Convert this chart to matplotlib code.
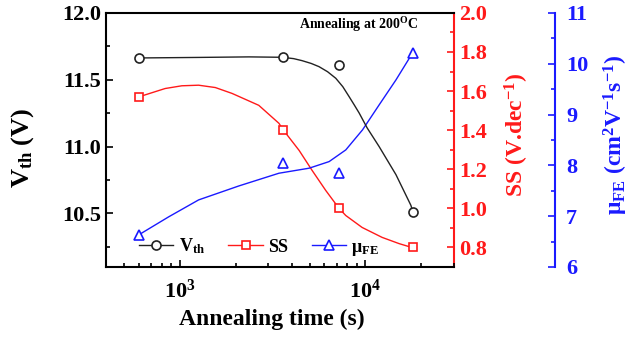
import numpy as np
import matplotlib
matplotlib.use("Agg")
import matplotlib.pyplot as plt
from matplotlib.ticker import MultipleLocator, LogLocator, FuncFormatter, NullFormatter

plt.rcParams['font.family'] = ['Liberation Serif', 'DejaVu Serif']
plt.rcParams['font.weight'] = 'bold'
plt.rcParams['mathtext.fontset'] = 'custom'
plt.rcParams['mathtext.rm'] = 'Liberation Serif:bold'
plt.rcParams['mathtext.bf'] = 'Liberation Serif:bold'
plt.rcParams['mathtext.it'] = 'Liberation Serif:bold'
plt.rcParams['mathtext.default'] = 'rm'

# measured points
time_s = [600, 3600, 7200, 18000]
vth = [11.663, 11.67, 11.61, 10.51]
ss = [1.57, 1.402, 1.0, 0.80]
mu_fe = [6.63, 8.05, 7.85, 10.22]

# fitted curves
vth_fit_x = [600, 1262, 2355, 3570, 4100, 4550, 5100, 5620, 6250, 6920, 7550, 8170, 8700, 9250,
             10210, 11850, 14600, 17580, 18000]
vth_fit_y = [11.663, 11.667, 11.671, 11.668, 11.658, 11.643, 11.622, 11.598, 11.560, 11.511, 11.448,
             11.373, 11.312, 11.251, 11.140, 11.000, 10.790, 10.560, 10.51]
ss_fit_x = [600, 833, 1025, 1262, 1553, 1910, 2662, 3418, 3600, 4393, 5158, 6113, 7200, 7834, 9592,
            12300, 15200, 18000]
ss_fit_y = [1.570, 1.613, 1.627, 1.630, 1.618, 1.588, 1.527, 1.435, 1.402, 1.296, 1.194, 1.091, 1.0,
            0.963, 0.902, 0.851, 0.819, 0.798]
mu_fit_x = [600, 869, 1262, 2080, 3418, 4970, 6370, 7834, 9640, 11850, 14600, 18000]
mu_fit_y = [6.63, 6.984, 7.319, 7.594, 7.844, 7.943, 8.073, 8.303, 8.697, 9.189, 9.681, 10.22]

red = '#ff1a1a'
blue = '#1a1aff'
lw = 1.5

fig = plt.figure(figsize=(6.31, 3.37), dpi=100)
ax = fig.add_axes([0.168, 0.208, 0.5515, 0.7537])
ax2 = ax.twinx()
ax3 = ax.twinx()
ax3.spines['right'].set_position(('axes', 1.29))

# curves
ax.plot(vth_fit_x, vth_fit_y, color='#222222', lw=1.0, zorder=2)
ax2.plot(ss_fit_x, ss_fit_y, color=red, lw=1.0, zorder=2)
ax3.plot(mu_fit_x, mu_fit_y, color=blue, lw=1.0, zorder=2)

# markers
ax.plot(time_s, vth, 'o', ms=6.5, mfc='white', mec='#222222', mew=1.2, zorder=3)
ax2.plot(time_s, ss, 's', ms=6, mfc='white', mec=red, mew=1.2, zorder=3)
ax3.plot(time_s, mu_fe, '^', ms=7, mfc='white', mec=blue, mew=1.2, zorder=3)

ax.set_xscale('log')
ax.set_xlim(400, 30000)
ax.set_ylim(10.1, 12.0)
ax2.set_ylim(0.7, 2.0)
ax3.set_ylim(6, 11)

ax.xaxis.set_major_locator(LogLocator(base=10, numticks=10))
ax.xaxis.set_minor_locator(LogLocator(base=10, subs=np.arange(2, 10), numticks=10))
ax.xaxis.set_major_formatter(FuncFormatter(lambda v, p: r'$\mathrm{10^{%d}}$' % round(np.log10(v))))
ax.xaxis.set_minor_formatter(NullFormatter())

ax.yaxis.set_major_locator(MultipleLocator(0.5))
ax.yaxis.set_minor_locator(MultipleLocator(0.25))
ax.yaxis.set_major_formatter(FuncFormatter(lambda v, p: '%.1f' % v))
ax2.yaxis.set_major_locator(MultipleLocator(0.2))
ax2.yaxis.set_minor_locator(MultipleLocator(0.1))
ax2.yaxis.set_major_formatter(FuncFormatter(lambda v, p: '%.1f' % v))
ax3.yaxis.set_major_locator(MultipleLocator(1))
ax3.yaxis.set_minor_locator(MultipleLocator(0.5))

for s in ['top', 'bottom', 'left']:
    ax.spines[s].set_linewidth(lw)
ax.spines['right'].set_visible(False)
for s in ['top', 'bottom', 'left']:
    ax2.spines[s].set_visible(False)
    ax3.spines[s].set_visible(False)
ax2.spines['right'].set_color(red)
ax2.spines['right'].set_linewidth(lw)
ax3.spines['right'].set_color(blue)
ax3.spines['right'].set_linewidth(lw)

ax.tick_params(axis='both', which='both', direction='in', width=1.2, labelsize=16)
ax.tick_params(which='major', length=5)
ax.tick_params(which='minor', length=3)
ax.tick_params(axis='x', pad=9)
ax2.tick_params(axis='y', which='both', direction='in', colors=red, width=1.2, labelsize=16)
ax2.tick_params(which='major', length=5)
ax2.tick_params(which='minor', length=3)
ax3.tick_params(axis='y', which='both', direction='in', colors=blue, width=1.2, labelsize=16, pad=8)
ax3.tick_params(which='major', length=5)
ax3.tick_params(which='minor', length=3)

ax.set_xlabel('Annealing time (s)', fontsize=17, fontweight='bold')
ax.xaxis.set_label_coords(0.477, -0.165)
ax.set_ylabel(r'V$_{\mathrm{th}}$ (V)', fontsize=19, fontweight='bold')
ax.yaxis.set_label_coords(-0.2, 0.47)
ax2.set_ylabel(r'SS (V.dec$^{\mathrm{-1}}$)', fontsize=17, fontweight='bold', color=red)
ax2.yaxis.set_label_coords(1.14, 0.52)
ax3.set_ylabel(r'μ$_{\mathrm{FE}}$ (cm$^{\mathrm{2}}$V$^{\mathrm{-1}}$s$^{\mathrm{-1}}$)', fontsize=17,
               fontweight='bold', color=blue)
ax3.yaxis.set_label_coords(1.425, 0.52)

ax.text(0.897, 0.953, r'Annealing at 200$^{\mathrm{O}}$C', transform=ax.transAxes,
        ha='right', va='center', fontsize=10, fontweight='bold')

# legend
h1, = ax.plot([], [], '-o', color='#222222', ms=6.5, mfc='white', mew=1.2, lw=1.0)
h2, = ax.plot([], [], '-s', color=red, ms=6, mfc='white', mew=1.2, lw=1.0)
h3, = ax.plot([], [], '-^', color=blue, ms=7, mfc='white', mew=1.2, lw=1.0)
leg = ax.legend([h1, h2, h3], [r'V$_{\mathrm{th}}$', 'SS', r'μ$_{\mathrm{FE}}$'],
                loc='center left', bbox_to_anchor=(0.074, 0.078), ncol=3, frameon=False,
                fontsize=13, handlelength=1.9, handletextpad=0.3, columnspacing=1.3,
                numpoints=1, borderaxespad=0)
ax.set_zorder(ax3.get_zorder() + 1)
ax.patch.set_visible(False)

fig.savefig('out.png', dpi=100)
